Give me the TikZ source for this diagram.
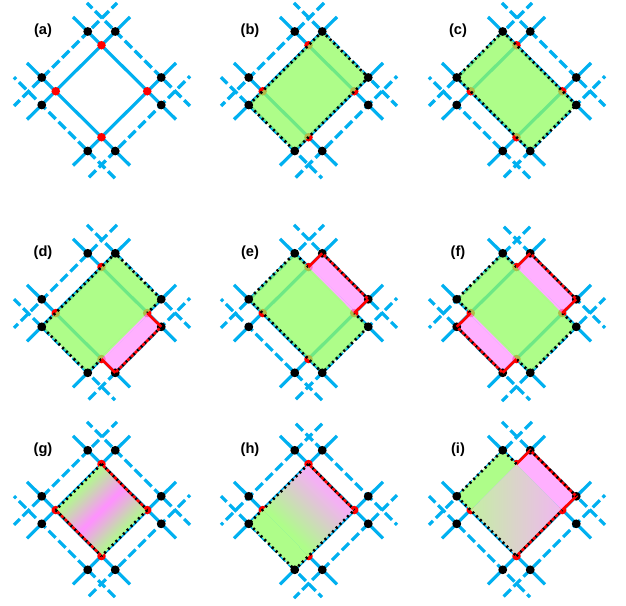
\documentclass[tikz,border=0pt]{standalone}
\usepackage{fontspec}
\setmainfont{Liberation Sans}
\definecolor{cblue}{HTML}{00B0F0}
\definecolor{cgreen}{HTML}{93FC62}
\definecolor{cpink}{HTML}{FF96FF}
\definecolor{cred}{HTML}{FF0000}
\definecolor{sgreen}{HTML}{AEFD89}
\definecolor{spink}{HTML}{FF90FF}
\definecolor{spale}{HTML}{F4B0F4}
\definecolor{sleft}{HTML}{C4EFA4}
\definecolor{sright}{HTML}{F2B6F2}
% the corners of the square lie on the sides of the box that gets shaded
\pgfdeclarehorizontalshading{bandshade}{100bp}{color(0bp)=(sgreen); color(32.3bp)=(sgreen); color(50bp)=(spink); color(67.7bp)=(sgreen); color(100bp)=(sgreen)}
\pgfdeclarehorizontalshading{rampshade}{100bp}{color(0bp)=(sgreen); color(34bp)=(sgreen); color(64bp)=(spale); color(100bp)=(spale)}
\tikzset{
  gridline/.style={cblue, line width=2.4pt, line cap=butt},
  griddash/.style={gridline, dash pattern=on 7.5pt off 3pt, dash phase=#1},
  reddot/.style={fill=cred},
  blackdot/.style={fill=black},
  greenpart/.style={fill=cgreen, fill opacity=.75},
  pinkpart/.style={fill=cpink, fill opacity=.75},
  seam/.style={white, line width=2.8pt, shorten >=3.2pt, shorten <=3.2pt},
  dotedge/.style={black, line width=2pt, dash pattern=on 1.6pt off 2.4pt},
  rededge/.style={cred, line width=2pt, dash pattern=on 2.2pt off 1.8pt, dash phase=2.3pt},
  redline/.style={cred, line width=2pt},
  panellabel/.style={font=\bfseries\fontsize{11}{13}\selectfont},
}
% solid lines, dashed lines and red crossings of one panel
\newcommand{\panelbase}[4]{
  \coordinate (ta) at (87.75,31.5);  \coordinate (tb) at (115.25,31.5);
  \coordinate (la) at (41.75,77.5);  \coordinate (lb) at (41.75,105);
  \coordinate (ra) at (161.25,77.5); \coordinate (rb) at (161.25,105);
  \coordinate (ba) at (87.75,151);   \coordinate (bb) at (115.25,151);
  \coordinate (redT) at (101.5,45.25);  \coordinate (redB) at (101.5,137.25);
  \coordinate (redL) at (55.75,91.25);  \coordinate (redR) at (147.25,91.25);
  \draw[gridline] (73,17) -- (176,119.5);
  \draw[gridline] (130,17) -- (27,119.5);
  \draw[gridline] (73,165.5) -- (176,63);
  \draw[gridline] (27,63) -- (130,165.5);
  \draw[griddash=#1pt] (117,3) -- (14,106);
  \draw[griddash=#2pt] (87,3) -- (190,106);
  \draw[griddash=#3pt] (14,77.25) -- (115,178.25);
  \draw[griddash=#4pt] (190,76.25) -- (87,179.25);
  \foreach \p in {redT,redB,redL,redR} \fill[reddot] (\p) circle (3.2pt);
}
\newcommand{\panelblack}{
  \foreach \p in {ta,tb,la,lb,ra,rb,ba,bb} \fill[blackdot] (\p) circle (3.3pt);
}
\begin{document}
\begin{tikzpicture}[x=.75pt, y=-.75pt]
  \useasboundingbox (0,0) rectangle (626,606);
  % top row
  \begin{scope}[shift={(0,0)}]
    \panelbase{1.9}{1.9}{5.25}{5.25}
    \panelblack
    \node[panellabel] (laba) at (43,31) {(a)};
  \end{scope}
  \begin{scope}[shift={(207,0)}]
    \panelbase{0}{1.5}{.75}{5}
    \fill[greenpart] (tb) -- (ra) -- (ba) -- (lb) -- cycle;
    \panelblack
    \draw[dotedge] (tb) -- (ra) -- (ba) -- (lb) -- cycle;
    \node[panellabel] (labb) at (43,31) {(b)};
  \end{scope}
  \begin{scope}[shift={(415,0)}]
    \panelbase{1.9}{1.9}{5.25}{5.25}
    \fill[greenpart] (ta) -- (rb) -- (bb) -- (la) -- cycle;
    \panelblack
    \draw[dotedge] (ta) -- (rb) -- (bb) -- (la) -- cycle;
    \node[panellabel] (labc) at (43,31) {(c)};
  \end{scope}
  % middle row
  \begin{scope}[shift={(0,221.8)}]
    \panelbase{0}{1.5}{.75}{5}
    \draw[seam] (redR) -- (redB);
    \fill[greenpart] (tb) -- (ra) -- (redR) -- (redB) -- (ba) -- (lb) -- cycle;
    \fill[pinkpart] (redR) -- (rb) -- (bb) -- (redB) -- cycle;
    \panelblack
    \draw[dotedge] (redB) -- (ba) -- (lb) -- (tb) -- (ra) -- (redR);
    \draw[dotedge] (rb) -- (bb);
    \draw[rededge] (rb) -- (bb);
    \draw[redline] (redR) -- (rb) (redB) -- (bb);
    \node[panellabel] (labd) at (43,31) {(d)};
  \end{scope}
  \begin{scope}[shift={(207,221.8)}]
    \panelbase{1.9}{1.9}{5.25}{5.25}
    \draw[seam] (redT) -- (redR);
    \fill[greenpart] (ta) -- (redT) -- (redR) -- (rb) -- (bb) -- (la) -- cycle;
    \fill[pinkpart] (redT) -- (tb) -- (ra) -- (redR) -- cycle;
    \panelblack
    \draw[dotedge] (redT) -- (ta) -- (la) -- (bb) -- (rb) -- (redR);
    \draw[dotedge] (tb) -- (ra);
    \draw[rededge] (tb) -- (ra);
    \draw[redline] (redT) -- (tb) (redR) -- (ra);
    \node[panellabel] (labe) at (43,31) {(e)};
  \end{scope}
  \begin{scope}[shift={(415,221.8)}]
    \panelbase{8.5}{8.5}{1.5}{1.5}
    \draw[seam] (redT) -- (redR);
    \draw[seam] (redL) -- (redB);
    \fill[greenpart] (ta) -- (redT) -- (redR) -- (rb) -- (bb) -- (redB) -- (redL) -- (la) -- cycle;
    \fill[pinkpart] (redT) -- (tb) -- (ra) -- (redR) -- cycle;
    \fill[pinkpart] (redL) -- (lb) -- (ba) -- (redB) -- cycle;
    \panelblack
    \draw[dotedge] (redT) -- (ta) -- (la) -- (redL);
    \draw[dotedge] (redR) -- (rb) -- (bb) -- (redB);
    \draw[dotedge] (tb) -- (ra) (lb) -- (ba);
    \draw[rededge] (tb) -- (ra) (lb) -- (ba);
    \draw[redline] (redT) -- (tb) (redR) -- (ra) (redL) -- (lb) (redB) -- (ba);
    \node[panellabel] (labf) at (43,31) {(f)};
  \end{scope}
  % bottom row, with gradients
  \begin{scope}[shift={(0,418.8)}]
    \panelbase{1.9}{1.9}{5.25}{5.25}
    \shade[shading=bandshade, shading angle=135] (redT) -- (redR) -- (redB) -- (redL) -- cycle;
    \panelblack
    \draw[dotedge] (redT) -- (redL) (redR) -- (redB);
    \draw[dotedge] (redT) -- (redR) (redL) -- (redB);
    \draw[rededge] (redT) -- (redR) (redL) -- (redB);
    \node[panellabel] (labg) at (43,31) {(g)};
  \end{scope}
  \begin{scope}[shift={(207,418.8)}]
    \panelbase{8.5}{8.5}{1.5}{1.5}
    \fill[sgreen] (redL) -- (redB) -- (ba) -- (lb) -- cycle;
    \shade[shading=rampshade, shading angle=45] (redT) -- (redR) -- (redB) -- (redL) -- cycle;
    \panelblack
    \draw[dotedge] (redT) -- (lb) -- (ba) -- (redR);
    \draw[dotedge] (redT) -- (redR);
    \draw[rededge] (redT) -- (redR);
    \node[panellabel] (labh) at (43,31) {(h)};
  \end{scope}
  \begin{scope}[shift={(415,418.8)}]
    \panelbase{0}{1.5}{.75}{5}
    \fill[sgreen] (ta) -- (redT) -- (redL) -- (la) -- cycle;
    \fill[cpink!75!white] (redT) -- (tb) -- (ra) -- (redR) -- cycle;
    \shade[left color=sleft, right color=sright]
      (redT) -- (redR) -- (redB) -- (redL) -- cycle;
    \panelblack
    \draw[redline] (redT) -- (tb) -- (ra) -- (redR);
    \draw[dotedge] (redT) -- (ta) -- (la) -- (redB);
    \draw[dotedge] (tb) -- (ra);
    \draw[dotedge] (redB) -- (redR);
    \draw[rededge] (redB) -- (redR);
    \node[panellabel] (labi) at (43,31) {(i)};
  \end{scope}
\end{tikzpicture}
\end{document}
